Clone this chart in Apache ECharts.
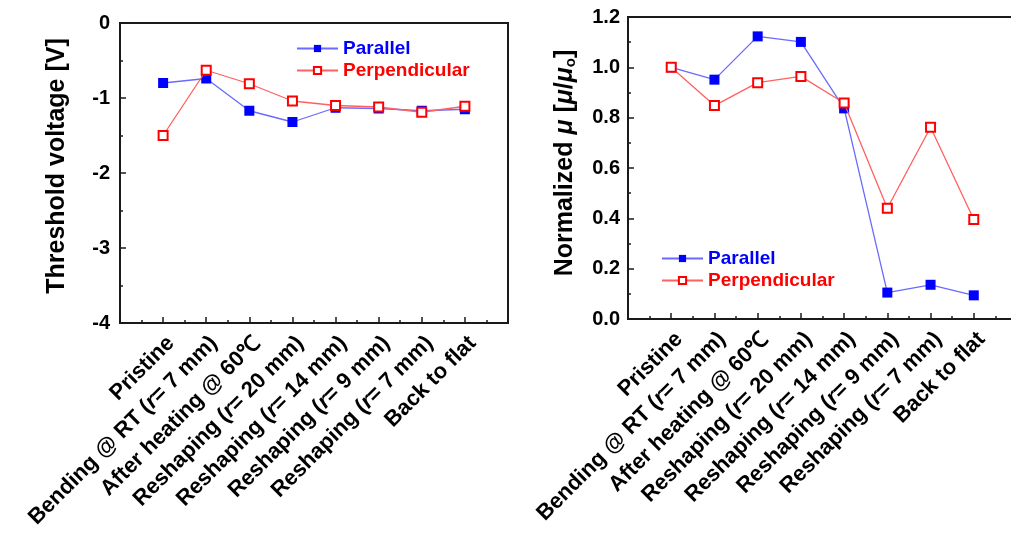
<!DOCTYPE html>
<html>
<head>
<meta charset="utf-8">
<script src="https://cdn.jsdelivr.net/npm/echarts@6/dist/echarts.min.js"></script>
<style>
  html, body { margin: 0; padding: 0; background: #fff; }
  #chart { width: 1011px; height: 533px; }
</style>
</head>
<body>
<div id="chart"></div>
<script>
// Process steps shared by both panels
const steps = [
  'Pristine',
  'Bending @ RT (r= 7 mm)',
  'After heating @ 60\u2103',
  'Reshaping (r= 20 mm)',
  'Reshaping (r= 14 mm)',
  'Reshaping (r= 9 mm)',
  'Reshaping (r= 7 mm)',
  'Back to flat'
];

// Threshold voltage [V]
const vthParallel      = [-0.80, -0.74, -1.17, -1.32, -1.13, -1.14, -1.17, -1.15];
const vthPerpendicular = [-1.50, -0.63, -0.81, -1.04, -1.10, -1.12, -1.19, -1.11];

// Normalized mobility
const muParallel      = [1.00, 0.951, 1.123, 1.101, 0.837, 0.105, 0.136, 0.094];
const muPerpendicular = [1.00, 0.848, 0.939, 0.964, 0.858, 0.440, 0.762, 0.395];

const seriesNames = ['Parallel', 'Perpendicular'];

const FONT = '"Liberation Sans", Arial, sans-serif';
const AXIS_COLOR = '#1a1a1a';
const LABEL_SIZE = 22;

// steps sit at 1..8 on a 0..9 value axis, leaving one slot of padding on each side
const pts = arr => arr.map((v, i) => [i + 1, v]);

function stepLabel(v) {
  const s = steps[v - 1];
  if (!s) return '';
  return s.replace('(r=', '({i|r}=');
}

function xAxisFor(gridIndex) {
  return {
    type: 'value', gridIndex, min: 0, max: 9, interval: 1,
    axisLine: { show: true, onZero: false, lineStyle: { color: AXIS_COLOR, width: 2 } },
    axisTick: { show: true, inside: true, length: 6, lineStyle: { color: AXIS_COLOR, width: 1.5 } },
    minorTick: { show: true, splitNumber: 2, length: 3, lineStyle: { color: AXIS_COLOR, width: 1.5 } },
    splitLine: { show: false },
    axisLabel: {
      rotate: 45, margin: 9, verticalAlign: 'top', formatter: stepLabel,
      color: '#000', fontFamily: FONT, fontWeight: 'bold', fontSize: LABEL_SIZE,
      rich: { i: { fontStyle: 'italic', fontWeight: 'bold', fontFamily: FONT, fontSize: LABEL_SIZE, color: '#000' } }
    }
  };
}

function yAxisFor(gridIndex, opts) {
  return Object.assign({
    type: 'value', gridIndex,
    nameLocation: 'middle', nameGap: 50,
    axisLine: { show: true, onZero: false, lineStyle: { color: AXIS_COLOR, width: 2 } },
    axisTick: { show: true, inside: true, length: 6, lineStyle: { color: AXIS_COLOR, width: 1.5 } },
    minorTick: { show: true, splitNumber: 2, length: 3, lineStyle: { color: AXIS_COLOR, width: 1.5 } },
    splitLine: { show: false }
  }, opts);
}

function parallelSeries(x, data) {
  return {
    name: seriesNames[0], type: 'line', xAxisIndex: x, yAxisIndex: x,
    data: pts(data), symbol: 'rect', symbolSize: 10,
    itemStyle: { color: '#0000ff' },
    lineStyle: { color: '#6a6aff', width: 1.3 },
    animation: false, z: 2
  };
}

function perpSeries(x, data) {
  return {
    name: seriesNames[1], type: 'line', xAxisIndex: x, yAxisIndex: x,
    data: pts(data), symbol: 'rect', symbolSize: 9,
    itemStyle: { color: '#ffffff', borderColor: '#ff0000', borderWidth: 2 },
    lineStyle: { color: '#ff6060', width: 1.3 },
    animation: false, z: 3
  };
}

function legendAt(left, top) {
  return {
    orient: 'vertical', left, top, itemGap: 3, itemWidth: 41, itemHeight: 9,
    textStyle: { fontFamily: FONT, fontWeight: 'bold', fontSize: 19 },
    data: [
      { name: seriesNames[0], textStyle: { color: '#0000ff' } },
      { name: seriesNames[1], textStyle: { color: '#ff0000' } }
    ],
    selectedMode: false
  };
}

const chart = echarts.init(document.getElementById('chart'), null, { renderer: 'canvas' });

chart.setOption({
  backgroundColor: '#ffffff',
  animation: false,
  grid: [
    { left: 120, top: 23, width: 388, height: 300, outerBoundsMode: 'none', containLabel: false,
      show: true, borderColor: AXIS_COLOR, borderWidth: 2, backgroundColor: 'transparent' },
    { left: 628, top: 17, width: 389, height: 302, outerBoundsMode: 'none', containLabel: false,
      show: true, borderColor: AXIS_COLOR, borderWidth: 2, backgroundColor: 'transparent' }
  ],
  legend: [legendAt(291, 34), legendAt(656, 244)],
  xAxis: [xAxisFor(0), xAxisFor(1)],
  yAxis: [
    yAxisFor(0, {
      name: 'Threshold voltage [V]', min: -4, max: 0, interval: 1,
      nameTextStyle: { color: '#000', fontFamily: FONT, fontWeight: 'bold', fontSize: 25, padding: [0, 0, 0, 14] },
      axisLabel: { margin: 10, color: '#000', fontFamily: FONT, fontWeight: 'bold', fontSize: 20 }
    }),
    yAxisFor(1, {
      name: 'Normalized {i|\u03bc} [{i|\u03bc}/{i|\u03bc}{s|o}]', min: 0, max: 1.2, interval: 0.2,
      nameTextStyle: {
        color: '#000', fontFamily: FONT, fontWeight: 'bold', fontSize: 25, padding: [0, 0, 0, 10],
        rich: {
          i: { fontFamily: FONT, fontStyle: 'italic', fontWeight: 'bold', fontSize: 25, color: '#000' },
          s: { fontFamily: FONT, fontWeight: 'bold', fontSize: 15, color: '#000', verticalAlign: 'bottom', padding: [8, 0, 0, 0] }
        }
      },
      axisLabel: {
        margin: 8, color: '#000', fontFamily: FONT, fontWeight: 'bold', fontSize: 20,
        formatter: v => v.toFixed(1)
      }
    })
  ],
  series: [
    parallelSeries(0, vthParallel),
    perpSeries(0, vthPerpendicular),
    parallelSeries(1, muParallel),
    perpSeries(1, muPerpendicular)
  ]
});
</script>
</body>
</html>
